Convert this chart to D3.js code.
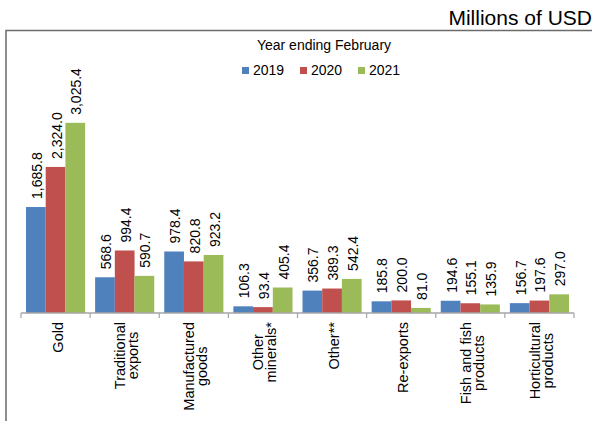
<!DOCTYPE html>
<meta charset="utf-8">
<style>
  body { margin: 0; background: #fff; }
  text { font-family: "Liberation Sans", Arial, sans-serif; fill: #000; }
</style>
<svg width="592" height="421"></svg>
<script src="https://cdn.jsdelivr.net/npm/d3@7"></script>
<script>

  // categories, each one split in its label lines
  var categories = [
    ["Gold"],
    ["Traditional", "exports"],
    ["Manufactured", "goods"],
    ["Other", "minerals*"],
    ["Other**"],
    ["Re-exports"],
    ["Fish and fish", "products"],
    ["Horticultural", "products"]
  ];
  var years = ["2019", "2020", "2021"];
  var v2019 = [1685.8, 568.6, 978.4, 106.3, 356.7, 185.8, 194.6, 156.7];
  var v2020 = [2324.0, 994.4, 820.8, 93.4, 389.3, 200.0, 155.1, 197.6];
  var v2021 = [3025.4, 590.7, 923.2, 405.4, 542.4, 81.0, 135.9, 297.0];
  var colors = ["#4f81bd", "#c0504d", "#9bbb59"];

  var series = [v2019, v2020, v2021];
  var svg = d3.select("svg");
  var fmt = d3.format(",.1f");

  // frame
  svg.append("path")
        .attr("d", "M6,421V30.5H592")
        .attr("fill", "none")
        .attr("stroke", "#6b6b6b")
        .attr("stroke-width", 1.5);

  svg.append("text")
        .attr("x", 592).attr("y", 25)
        .attr("text-anchor", "end")
        .style("font-size", "21px")
        .text("Millions of USD");

  var x0 = d3.scaleBand()
        .domain(d3.range(categories.length))
        .range([21, 574]);
  var x1 = d3.scaleBand()
        .domain(d3.range(years.length))
        .range([5, x0.bandwidth() - 5]);
  var y = d3.scaleLinear()
        .domain([0, 3500])
        .range([313, 93]);

  var groups = svg.append("g").selectAll("g")
        .data(categories)
        .enter().append("g")
        .attr("transform", function (d, i) { return "translate(" + x0(i) + ",0)"; });

  groups.each(function (c, i) {
    var g = d3.select(this);
    series.forEach(function (s, k) {
      g.append("rect")
            .attr("x", x1(k))
            .attr("width", x1.bandwidth())
            .attr("y", y(s[i]))
            .attr("height", y(0) - y(s[i]))
            .attr("fill", colors[k]);
      var cx = x1(k) + x1.bandwidth() / 2 + 6;
      g.append("text")
            .attr("transform", "translate(" + cx + "," + (y(s[i]) - 8) + ") rotate(-90)")
            .style("font-size", "14px")
            .text(fmt(s[i]));
    });
  });

  // axis line and ticks
  svg.append("line")
        .attr("x1", 21).attr("x2", 574)
        .attr("y1", 313).attr("y2", 313)
        .attr("stroke", "#a6a6a6").attr("stroke-width", 1.5);
  svg.append("g").selectAll("line")
        .data(d3.range(categories.length + 1))
        .enter().append("line")
        .attr("x1", function (i) { return 21 + i * x0.step(); })
        .attr("x2", function (i) { return 21 + i * x0.step(); })
        .attr("y1", 313).attr("y2", 318)
        .attr("stroke", "#a6a6a6").attr("stroke-width", 1.2);

  // category labels, rotated, lines centred in a block that hangs from the axis
  groups.each(function (lines) {
    var g = d3.select(this);
    var cx = x0.bandwidth() / 2;
    var n = lines.length;
    var texts = lines.map(function (l, j) {
      return g.append("text")
            .style("font-size", "14.5px")
            .attr("text-anchor", "middle")
            .text(l);
    });
    var maxW = d3.max(texts, function (t) { return t.node().getComputedTextLength(); });
    texts.forEach(function (t, j) {
      var bx = cx + 7 + (j - (n - 1) / 2) * 13;
      t.attr("transform", "translate(" + bx + "," + (322 + maxW / 2) + ") rotate(-90)");
    });
  });

  // legend
  svg.append("text")
        .attr("x", 324).attr("y", 50)
        .attr("text-anchor", "middle")
        .style("font-size", "14px")
        .text("Year ending February");

  var legendX = [242, 300, 358];
  var leg = svg.append("g").selectAll("g")
        .data(years)
        .enter().append("g")
        .attr("transform", function (d, i) { return "translate(" + legendX[i] + ",0)"; });
  leg.append("rect")
        .attr("x", 0).attr("y", 67)
        .attr("width", 7).attr("height", 7)
        .attr("fill", function (d, i) { return colors[i]; });
  leg.append("text")
        .attr("x", 11).attr("y", 75)
        .style("font-size", "14px")
        .text(function (d) { return d; });

</script>
